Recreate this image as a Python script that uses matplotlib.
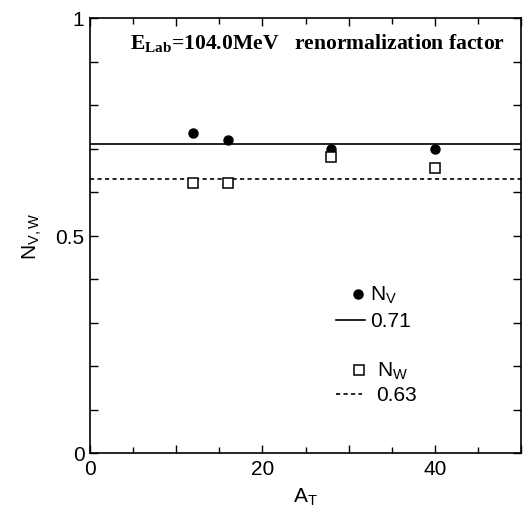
import matplotlib
matplotlib.use("Agg")
import matplotlib.pyplot as plt

plt.rcParams['font.family'] = ['Liberation Sans', 'DejaVu Sans']

# target mass numbers and renormalization factors
a_target = [12, 16, 28, 40]
n_v = [0.735, 0.72, 0.70, 0.70]
n_w = [0.62, 0.62, 0.68, 0.655]
nv_mean = 0.71
nw_mean = 0.63

fig = plt.figure(figsize=(5.25, 5.1), dpi=100)
ax = fig.add_axes([90/525, 1 - 454/510, 431/525, 435/510])

ax.axhline(nv_mean, color='black', lw=1.2)
ax.axhline(nw_mean, color='black', lw=1.2, ls=(0, (2.5, 2)))
ax.plot(a_target, n_v, 'o', color='black', ms=6.5)
ax.plot(a_target, n_w, 's', mfc='white', mec='black', mew=1.1, ms=7.5)

ax.set_xlim(0, 50)
ax.set_ylim(0, 1)
ax.set_xticks([0, 10, 20, 30, 40, 50])
ax.set_xticklabels(['0', '', '20', '', '40', ''])
ax.set_xticks([5, 15, 25, 35, 45], minor=True)
ax.set_yticks([0, 0.1, 0.2, 0.3, 0.4, 0.5, 0.6, 0.7, 0.8, 0.9, 1.0])
ax.set_yticklabels(['0', '', '', '', '', '0.5', '', '', '', '', '1'])
ax.tick_params(which='both', direction='in', top=True, right=True, labelsize=15, width=1)
ax.tick_params(which='major', length=6, pad=4)
ax.tick_params(which='minor', length=4)
for s in ax.spines.values():
    s.set_linewidth(1.2)

ax.set_xlabel(r'A$_\mathregular{T}$', fontsize=15, labelpad=6)
ax.set_ylabel(r'N$_\mathregular{V,W}$', fontsize=15, labelpad=8)

ax.text(0.528, 0.945, r'$\mathregular{E_{Lab}}$=104.0MeV   renormalization factor',
        transform=ax.transAxes, ha='center', va='center', fontsize=15.6,
        family='Liberation Serif', fontweight='bold')

# hand-made legend
tr = ax.transAxes
ax.plot([0.622], [0.365], 'o', color='black', ms=6.5, transform=tr)
ax.text(0.65, 0.365, r'N$_\mathregular{V}$', transform=tr, fontsize=15, va='center')
ax.plot([0.57, 0.637], [0.305, 0.305], color='black', lw=1.2, transform=tr)
ax.text(0.65, 0.305, '%.2f' % nv_mean, transform=tr, fontsize=15, va='center')
ax.plot([0.624], [0.19], 's', mfc='white', mec='black', mew=1.1, ms=7, transform=tr)
ax.text(0.665, 0.19, r'N$_\mathregular{W}$', transform=tr, fontsize=15, va='center')
ax.plot([0.57, 0.63], [0.135, 0.135], color='black', lw=1.2, ls=(0, (2.5, 2)), transform=tr)
ax.text(0.665, 0.135, '%.2f' % nw_mean, transform=tr, fontsize=15, va='center')

fig.savefig('out.png', dpi=100)
